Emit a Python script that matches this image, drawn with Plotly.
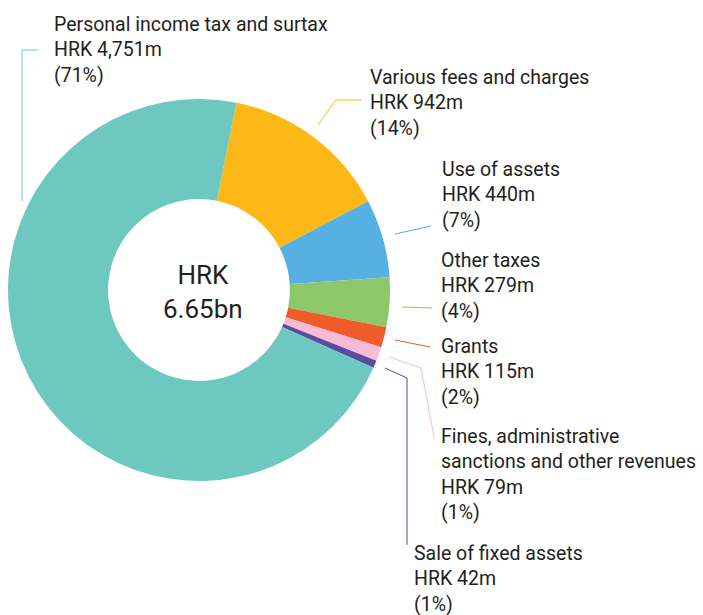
import plotly.graph_objects as go

W, H = 703, 615

categories = ["Various fees and charges", "Use of assets", "Other taxes", "Grants",
              "Fines, administrative<br>sanctions and other revenues", "Sale of fixed assets",
              "Personal income tax and surtax"]
values = [942, 440, 279, 115, 79, 42, 4751]
value_labels = ["HRK 942m", "HRK 440m", "HRK 279m", "HRK 115m", "HRK 79m", "HRK 42m", "HRK 4,751m"]
pct_labels = ["(14%)", "(7%)", "(4%)", "(2%)", "(1%)", "(1%)", "(71%)"]
colors = ["#FCB817", "#56B0E2", "#8CC76A", "#F15A29", "#F7BBD8", "#574EA0", "#6DC8BF"]
center_text = "HRK<br>6.65bn"

def px(x):
    return x / W

def py(y):
    return 1 - y / H

cx, cy, R = 199, 290, 191

fig = go.Figure(go.Pie(
    labels=categories, values=values, sort=False, direction="clockwise",
    rotation=11.3, hole=0.476, textinfo="none", hoverinfo="label+value",
    marker=dict(colors=colors, line=dict(width=0)),
    domain=dict(x=[px(cx - R), px(cx + R)], y=[py(cy + R), py(cy - R)]),
    showlegend=False,
))

FONT = dict(family="Roboto, sans-serif", size=19.5, color="#231F20")

# label anchor positions (left x, middle y) for each category, same order as data
label_pos = [(368, 103), (440, 195), (439, 286), (439, 372), (439, 474), (412, 579), (52, 50)]

annotations = []
for cat, vl, pl, (lx, ly) in zip(categories, value_labels, pct_labels, label_pos):
    annotations.append(dict(
        text=f"{cat}<br>{vl}<br>{pl}", x=px(lx), y=py(ly), xref="paper", yref="paper",
        xanchor="left", yanchor="middle", align="left", showarrow=False, font=FONT,
    ))
annotations.append(dict(
    text=center_text, x=px(203), y=py(292), xref="paper", yref="paper",
    xanchor="center", yanchor="middle", align="center", showarrow=False,
    font=dict(family="Roboto, sans-serif", size=26, color="#231F20"),
))

# leader lines (pixel polylines), same order as data
leaders = [
    [(318, 125), (336, 100), (362, 100)],
    [(395, 234), (431, 226)],
    [(402, 307), (432, 308)],
    [(395, 340), (430, 347)],
    [(389, 357), (421, 368), (434, 437)],
    [(385, 368), (407, 378), (407, 545)],
    [(38, 50), (22, 50), (22, 201)],
]
shapes = []
for pts, col in zip(leaders, colors):
    path = "M " + " L ".join(f"{px(x)},{py(y)}" for x, y in pts)
    shapes.append(dict(type="path", path=path, xref="paper", yref="paper",
                       line=dict(color=col, width=1)))

fig.update_layout(
    width=W, height=H, margin=dict(l=0, r=0, t=0, b=0),
    paper_bgcolor="white", plot_bgcolor="white",
    annotations=annotations, shapes=shapes,
)

fig.write_html("out.html", config={"displayModeBar": False},
               post_script="document.body.style.margin='0';document.body.style.overflow='hidden';")
